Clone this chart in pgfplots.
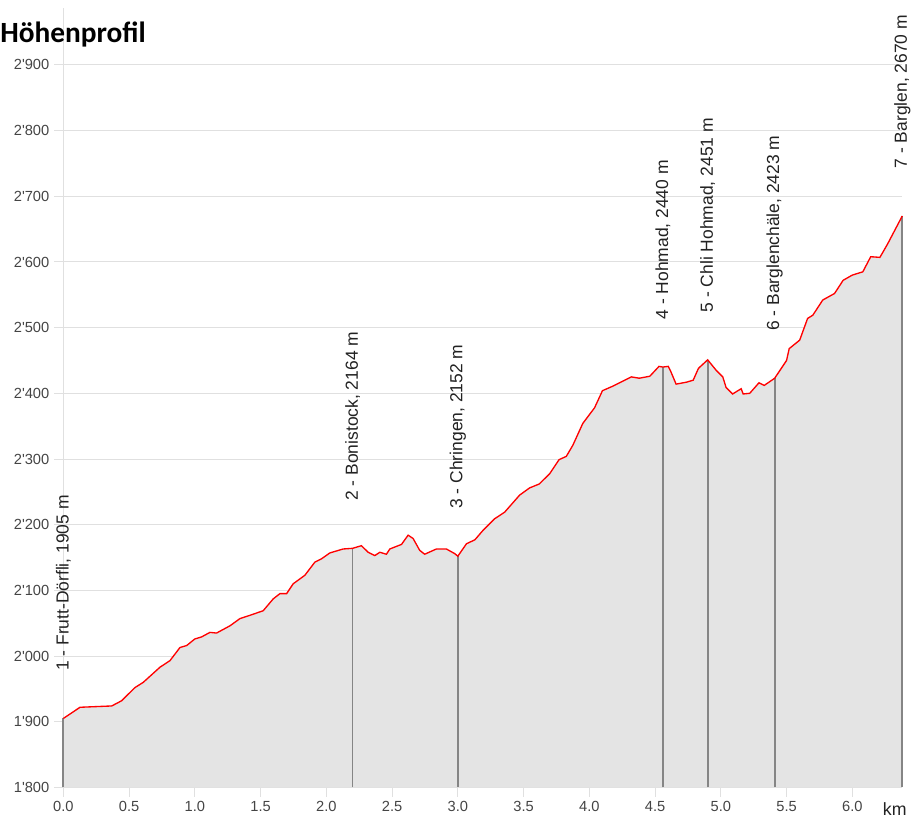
\documentclass[border=0pt]{standalone}
\usepackage{pgfplots}
\pgfplotsset{compat=1.18}
\usepackage{pgfplotstable}
\usepackage{fontspec}
\setmainfont{Liberation Sans}
\newfontfamily\titlefont{Carlito}
\definecolor{gridc}{HTML}{E0E0E0}
\definecolor{fillc}{HTML}{E4E4E4}
\definecolor{markc}{HTML}{858585}
\definecolor{tickc}{HTML}{444444}
\definecolor{labc}{HTML}{222222}
\definecolor{linec}{HTML}{FF0000}

\pgfplotstableread{
d h
0 1905
0.127 1922
0.368 1924
0.444 1932
0.494 1942
0.545 1952
0.608 1960
0.735 1983
0.811 1993
0.887 2013
0.938 2016
1.0 2026
1.05 2029
1.115 2036
1.165 2035
1.267 2046
1.343 2057
1.419 2062
1.52 2069
1.596 2087
1.647 2095
1.698 2095
1.748 2110
1.837 2123
1.913 2143
1.963 2148
2.027 2157
2.128 2163
2.20 2164
2.267 2168
2.318 2158
2.369 2153
2.407 2158
2.457 2155
2.483 2163
2.572 2170
2.622 2184
2.66 2179
2.71 2161
2.748 2155
2.837 2163
2.913 2163
2.976 2156
3.0 2152
3.066 2171
3.13 2177
3.19 2191
3.28 2209
3.356 2219
3.47 2245
3.546 2256
3.62 2262
3.70 2278
3.77 2299
3.825 2304
3.875 2321
3.95 2354
4.04 2378
4.10 2404
4.18 2411
4.32 2425
4.38 2423
4.46 2426
4.53 2441
4.56 2440
4.60 2441
4.62 2433
4.66 2414
4.74 2417
4.79 2420
4.83 2438
4.90 2451
4.965 2435
5.015 2425
5.04 2409
5.09 2399
5.13 2404
5.155 2407
5.17 2399
5.22 2400
5.29 2416
5.33 2412
5.41 2423
5.46 2438
5.50 2450
5.52 2468
5.60 2481
5.66 2514
5.70 2519
5.775 2542
5.865 2552
5.93 2572
6.00 2580
6.08 2585
6.14 2608
6.21 2607
6.27 2628
6.38 2670
}\profile

\pgfplotstableread[col sep=semicolon]{
d;h;label
0;1905;1 - Frutt-Dörfli, 1905 m
2.20;2164;2 - Bonistock, 2164 m
3.0;2152;3 - Chringen, 2152 m
4.56;2440;4 - Hohmad, 2440 m
4.90;2451;5 - Chli Hohmad, 2451 m
5.41;2423;6 - Barglenchäle, 2423 m
6.38;2670;7 - Barglen, 2670 m
}\waypoints

\begin{document}
\begin{tikzpicture}
\begin{axis}[
  at={(0,0)}, anchor=south west,
  scale only axis,
  width=629.25pt, height=541.9pt,
  xmin=0, xmax=6.38, ymin=1800, ymax=2900,
  clip=false,
  axis lines*=left,
  axis line style={draw=gridc, line width=0.75pt},
  xtick={0,0.5,...,6.0},
  ytick={1800,1900,...,2900},
  ymajorgrids=true,
  grid style={draw=gridc, line width=0.75pt},
  tick align=outside,
  major tick length=7pt,
  tick style={draw=gridc, line width=0.75pt},
  ticklabel style={font=\fontsize{11}{13}\selectfont, text=tickc},
  /pgf/number format/assume math mode=true,
  xticklabel style={/pgf/number format/.cd, fixed, fixed zerofill, precision=1},
  yticklabel style={/pgf/number format/.cd, 1000 sep={\textquotesingle}},
  scaled ticks=false,
  xlabel={km},
  xlabel style={at={(axis description cs:0.991,0)}, anchor=north, inner sep=0pt, yshift=-11.6pt, font=\fontsize{13.3}{16}\selectfont, text=labc},
]
\addplot[fill=fillc, draw=none] table[x=d,y=h] {\profile} -- (axis cs:6.38,1800) -- (axis cs:0,1800) -- cycle;
\addplot[markc, line width=1.3pt, unbounded coords=jump] coordinates {
 (0,1800) (0,1905) (0,nan)
 (2.20,1800) (2.20,2164) (2.20,nan)
 (3.0,1800) (3.0,2152) (3.0,nan)
 (4.56,1800) (4.56,2440) (4.56,nan)
 (4.90,1800) (4.90,2451) (4.90,nan)
 (5.41,1800) (5.41,2423) (5.41,nan)
 (6.38,1800) (6.38,2670)
};
\addplot[linec, line width=1pt] table[x=d,y=h] {\profile};
\draw[gridc, line width=0.75pt] (axis cs:0,2900) -- (axis cs:0,2987);
\addplot[only marks, mark=*, mark size=0pt, mark options={draw=none, fill=none},
  nodes near coords, point meta=explicit symbolic,
  every node near coord/.append style={font=\fontsize{13.1}{16}\selectfont, text=labc, anchor=west, inner sep=0pt, yshift=35.5pt, rotate=90}]
  table[x=d, y=h, meta=label] {\waypoints};
\end{axis}
\node[anchor=base west, inner sep=0pt, font=\titlefont\bfseries\fontsize{22}{26}\selectfont] at (-47.5pt,558.4pt) {Höhenprofil};
\pgfresetboundingbox
\path[use as bounding box] (-47.5pt,-24.4pt) rectangle (635.8pt,590.6pt);
\end{tikzpicture}
\end{document}
